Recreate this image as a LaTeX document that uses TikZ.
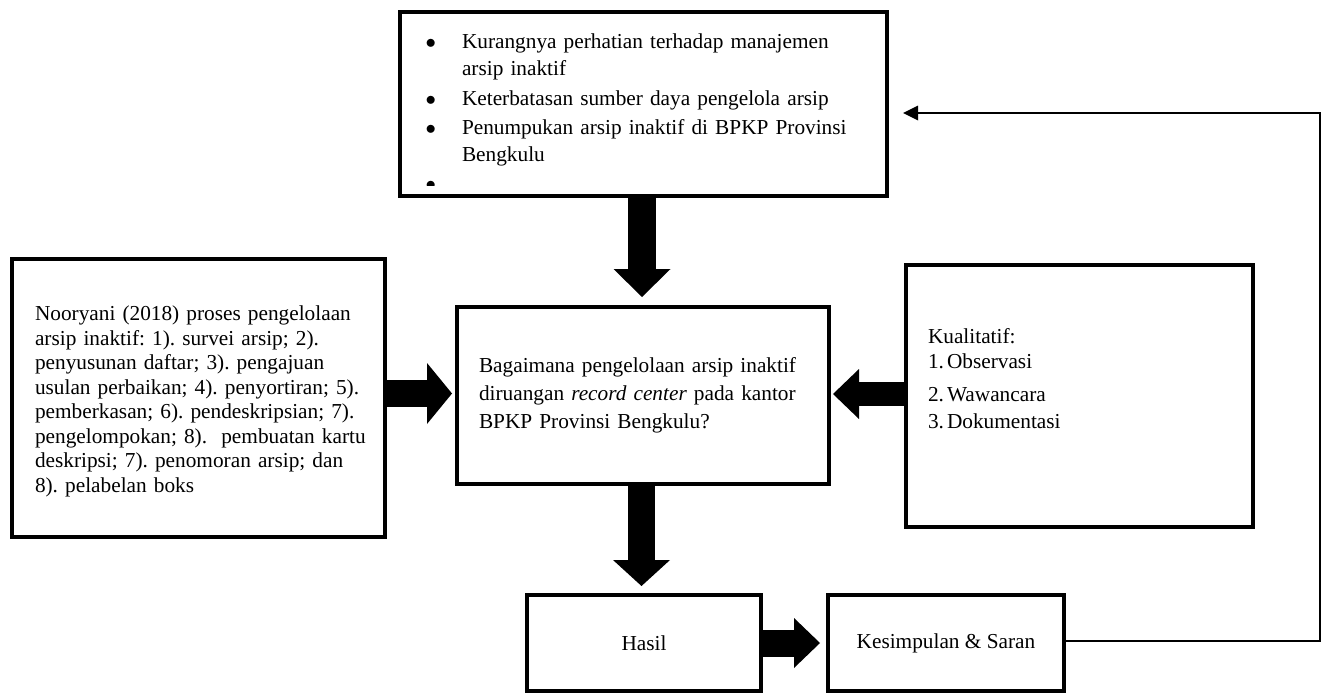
\documentclass[tikz,border=0pt]{standalone}
\usepackage{fontspec}
\setmainfont{Liberation Serif}
\usetikzlibrary{arrows.meta,calc}
\frenchspacing
\tikzset{
  box/.style={draw, line width=4pt, rectangle, inner sep=0pt, outer sep=0pt},
  txt/.style={inner sep=0pt, outer sep=0pt, anchor=base west, align=left,
    font=\fontsize{21.3pt}{24.5pt}\selectfont},
  boxfont/.style={font=\fontsize{21.3pt}{24.5pt}\selectfont},
  blkarrow/.style n args={3}{draw=black, line width=#1,
    -{Triangle[length=#2, width=#3, line width=0pt]}},
  fbline/.style={line width=1.5pt, -{Triangle[length=15pt, width=15pt, line width=0pt]}}
}
\newcommand{\bul}{\makebox[37pt][l]{\hspace*{0.5pt}$\bullet$}}
\begin{document}
\begin{tikzpicture}[x=1pt,y=-1pt]
\fill[white] (0,0) rectangle (1325,693);
\useasboundingbox (0,0) rectangle (1325,693);

% boxes
\node[box, minimum width=487pt, minimum height=184pt] (top) at (643.5,104) {};
\node[box, minimum width=373pt, minimum height=278pt] (left) at (198.5,398) {};
\node[box, minimum width=372pt, minimum height=177pt] (mid) at (643,395.5) {};
\node[box, minimum width=347pt, minimum height=262pt] (kual) at (1079,396) {};
\node[box, boxfont, minimum width=234pt, minimum height=96pt] (hasil) at (644,643) {Hasil};
\node[box, boxfont, minimum width=236pt, minimum height=96pt] (kes) at (946,643) {Kesimpulan \& Saran};

% texts
\node[txt, text width=440pt, font=\fontsize{21.3pt}{27pt}\selectfont] (ttxt) at (425,48.5)
 {\bul Kurangnya perhatian terhadap manajemen\\
  \hspace*{37pt}arsip inaktif\\[3pt]
  \bul Keterbatasan sumber daya pengelola arsip\\[2pt]
  \bul Penumpukan arsip inaktif di BPKP Provinsi\\
  \hspace*{37pt}Bengkulu};
\begin{scope}
  \clip (402,150) rectangle (885,185);
  \node[txt] (tb4) at (425.5,190) {$\bullet$};
\end{scope}

\node[txt, text width=340pt] (ltxt) at (35,320.5)
 {Nooryani (2018) proses pengelolaan\\
  arsip inaktif: 1). survei arsip; 2).\\
  penyusunan daftar; 3). pengajuan\\
  usulan perbaikan; 4). penyortiran; 5).\\
  pemberkasan; 6). pendeskripsian; 7).\\
  pengelompokan; 8).\ \ pembuatan kartu\\
  deskripsi; 7). penomoran arsip; dan\\
  8). pelabelan boks};

\node[txt, text width=330pt, font=\fontsize{21.3pt}{28pt}\selectfont] (mtxt) at (479,372.5)
 {Bagaimana pengelolaan arsip inaktif\\
  diruangan \textit{record center} pada kantor\\
  BPKP Provinsi Bengkulu?};

\node[txt, text width=300pt, font=\fontsize{21.3pt}{25pt}\selectfont] (ktxt) at (928,343.5)
 {Kualitatif:\\
  \makebox[19pt][l]{1.}Observasi\\[8pt]
  \makebox[19pt][l]{2.}Wawancara\\[2pt]
  \makebox[19pt][l]{3.}Dokumentasi};

% block arrows
\draw[blkarrow={28pt}{28pt}{57pt}, shorten >=10pt]
  ([xshift=-1.5pt]top.south) -- ([xshift=-1.5pt]top.south |- mid.north);
\draw[blkarrow={27pt}{26pt}{57pt}, shorten >=9pt]
  ([xshift=-1.5pt]mid.south) -- ([xshift=-1.5pt]mid.south |- hasil.north);
\draw[blkarrow={27pt}{25pt}{61pt}, shorten >=5pt]
  ([yshift=4.5pt]left.east) -- ([yshift=4.5pt]left.east -| mid.west);
\draw[blkarrow={24pt}{26pt}{50pt}, shorten >=4pt]
  ([yshift=2pt]kual.west) -- ([yshift=2pt]kual.west -| mid.east);
\draw[blkarrow={27pt}{26pt}{50pt}, shorten >=8pt]
  (hasil.east) -- (hasil.east -| kes.west);

% feedback line
\coordinate (fbc) at (1320,113);
\draw[fbline, shorten >=16pt] ([yshift=2pt]kes.east) -| (fbc) -- (fbc -| top.east);
\end{tikzpicture}
\end{document}
